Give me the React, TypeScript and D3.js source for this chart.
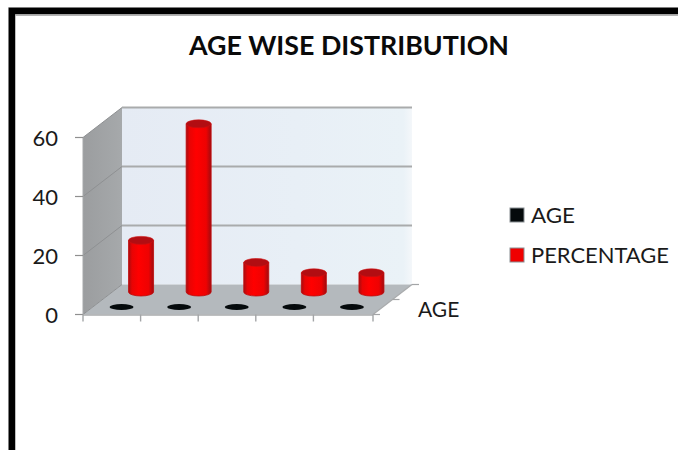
import * as d3 from "d3";

const categories = ["1", "2", "3", "4", "5"];
const seriesNames = ["AGE", "PERCENTAGE"];
const ageValues = [0, 0, 0, 0, 0];
const percentageValues = [17.5, 57, 10, 6.5, 6.5];
const valueTicks = [0, 20, 40, 60];
const legendTextWidths = [44, 138];

const seriesColors = ["#050a0c", "#f00000"];

const font = "Lato, 'Open Sans', sans-serif";
const depthDx = 39;
const depthDy = -30;

const x = d3.scaleBand<string>().domain(categories).range([83, 371]);
const y = d3.scaleLinear().domain([0, 60]).range([314.5, 137.5]);
const depth = d3.scalePoint<string>().domain(seriesNames).range([0, 1]).padding(0.5);

// Projects a category position, value and depth fraction onto the oblique box.
const project = (px: number, value: number, t: number): [number, number] => [
  px + depthDx * t,
  y(value) + depthDy * t,
];

const poly = (pts: [number, number][]) => pts.map((p) => p.join(",")).join(" ");

function Cylinder({ cat, value }: { cat: string; value: number }) {
  const t = depth("PERCENTAGE")!;
  const cx = x(cat)! + x.bandwidth() / 2;
  const [bx, by] = project(cx, 0, t);
  const [, ty] = project(cx, value, t);
  const rx = 12.5;
  const ry = 4;
  const body = `M${bx - rx},${ty} L${bx - rx},${by} A${rx},${ry} 0 0 0 ${bx + rx},${by} L${bx + rx},${ty} Z`;
  return (
    <g>
      <path d={body} fill="url(#cyl)" stroke="#c00808" strokeWidth={0.8} />
      <ellipse cx={bx} cy={ty} rx={rx} ry={ry} fill="#b20d12" stroke="#d01010" strokeWidth={0.6} />
    </g>
  );
}

export default function App() {
  const wallLeft = 83;
  const wallRight = 373;
  const [backL, topBack] = project(wallLeft, 60, 1);
  const [backR] = project(wallRight, 60, 1);
  const floorBack = project(wallLeft, 0, 1)[1];
  const frontY = y(0);
  const frontTop = y(60);

  return (
    <svg
      width={678}
      height={450}
      style={{ position: "fixed", left: 0, top: 0, display: "block" }}
      fontFamily={font}
    >
      <defs>
        <linearGradient id="cyl" x1="0" x2="1" y1="0" y2="0">
          <stop offset="0" stopColor="#a80c10" />
          <stop offset="0.14" stopColor="#e80404" />
          <stop offset="0.4" stopColor="#ff0000" />
          <stop offset="0.8" stopColor="#ee0202" />
          <stop offset="1" stopColor="#a00c10" />
        </linearGradient>
        <linearGradient id="backWall" x1="0" x2="1" y1="0" y2="0">
          <stop offset="0" stopColor="#e5ebf4" />
          <stop offset="0.6" stopColor="#e8eff6" />
          <stop offset="0.97" stopColor="#eaf2f7" />
          <stop offset="1" stopColor="#f4f7fa" />
        </linearGradient>
        <linearGradient id="sideWall" x1="0" x2="1" y1="0" y2="0">
          <stop offset="0" stopColor="#9b9d9f" />
          <stop offset="1" stopColor="#a6a9ab" />
        </linearGradient>
      </defs>

      <rect width={678} height={450} fill="#ffffff" />

      {/* Outer frame: heavy black band along the top and left */}
      <path d="M678,7.5 H8.5 V450" fill="none" stroke="#a8a8a8" strokeWidth={1} />
      <path d="M678,11 H12 V450" fill="none" stroke="#000000" strokeWidth={6.5} />
      <path d="M678,15 H15.5" fill="none" stroke="#9a9a9a" strokeWidth={1.6} />

      <text x={349} y={55} textAnchor="middle" fontSize={26} fontWeight={700} fill="#0a0a0a" textLength={320} lengthAdjust="spacingAndGlyphs">
        AGE WISE DISTRIBUTION
      </text>

      {/* Box walls and floor */}
      <rect x={backL} y={topBack} width={backR - backL} height={floorBack - topBack} fill="url(#backWall)" />
      <polygon
        points={poly([[wallLeft, frontTop], [backL, topBack], [backL, floorBack], [wallLeft, frontY]])}
        fill="url(#sideWall)"
      />
      <polygon
        points={poly([[wallLeft, frontY], [wallRight, frontY], [backR, floorBack], [backL, floorBack]])}
        fill="#b4b9bd"
      />

      {/* Gridlines run along the side wall and then the back wall */}
      {valueTicks.map((v) => {
        const [bx, by] = project(wallLeft, v, 1);
        return (
          <g key={v}>
            <line x1={wallLeft} y1={y(v)} x2={bx} y2={by} stroke="#8e9092" strokeWidth={1} />
            {v > 0 && <line x1={bx} y1={by} x2={backR} y2={by} stroke="#a9abac" strokeWidth={2} />}
          </g>
        );
      })}

      {/* Value axis */}
      <line x1={wallLeft} y1={frontTop} x2={wallLeft} y2={frontY} stroke="#a6a8aa" strokeWidth={1} />
      {valueTicks.map((v) => (
        <g key={v}>
          <line x1={wallLeft - 8} y1={y(v)} x2={wallLeft} y2={y(v)} stroke="#8f8f8f" strokeWidth={1.2} />
          <text x={58} y={y(v) + 8.5} fontSize={22} fill="#1a1a1a" textAnchor="end">
            {v}
          </text>
        </g>
      ))}

      {/* Category axis */}
      <line x1={wallLeft} y1={frontY + 0.5} x2={wallRight} y2={frontY + 0.5} stroke="#a9abad" strokeWidth={1.4} />
      {[...categories.map((c) => x(c)!), wallRight].map((tx) => (
        <line key={tx} x1={tx} y1={frontY} x2={tx} y2={frontY + 7} stroke="#a3a5a7" strokeWidth={1.4} />
      ))}

      {/* Depth axis */}
      <line x1={wallRight} y1={frontY} x2={backR} y2={floorBack} stroke="#a9abad" strokeWidth={1.2} />
      {[0, 0.5, 1].map((t) => {
        const [dx, dy] = project(wallRight, 0, t);
        return <line key={t} x1={dx} y1={dy} x2={dx + 7} y2={dy} stroke="#a3a5a7" strokeWidth={1.2} />;
      })}
      <text x={418} y={317} fontSize={21} fill="#1a1a1a">
        AGE
      </text>

      {/* AGE series: zero-height discs in the front row */}
      {categories.map((c, i) => {
        const [cx, cy] = project(x(c)! + x.bandwidth() / 2, ageValues[i], depth("AGE")!);
        return <ellipse key={c} cx={cx} cy={cy} rx={12} ry={3} fill={seriesColors[0]} />;
      })}

      {/* PERCENTAGE series: cylinders in the rear row */}
      {categories.map((c, i) => (
        <Cylinder key={c} cat={c} value={percentageValues[i]} />
      ))}

      {/* Legend */}
      {seriesNames.map((name, i) => {
        const ly = 215 + i * 40;
        return (
          <g key={name}>
            <rect x={510} y={ly - 7} width={14} height={14} fill={seriesColors[i]} stroke="#8a9094" strokeWidth={1} />
            <text x={531} y={ly + 7.5} fontSize={21} fill="#1a1a1a" textLength={legendTextWidths[i]} lengthAdjust="spacingAndGlyphs">
              {name}
            </text>
          </g>
        );
      })}
    </svg>
  );
}
